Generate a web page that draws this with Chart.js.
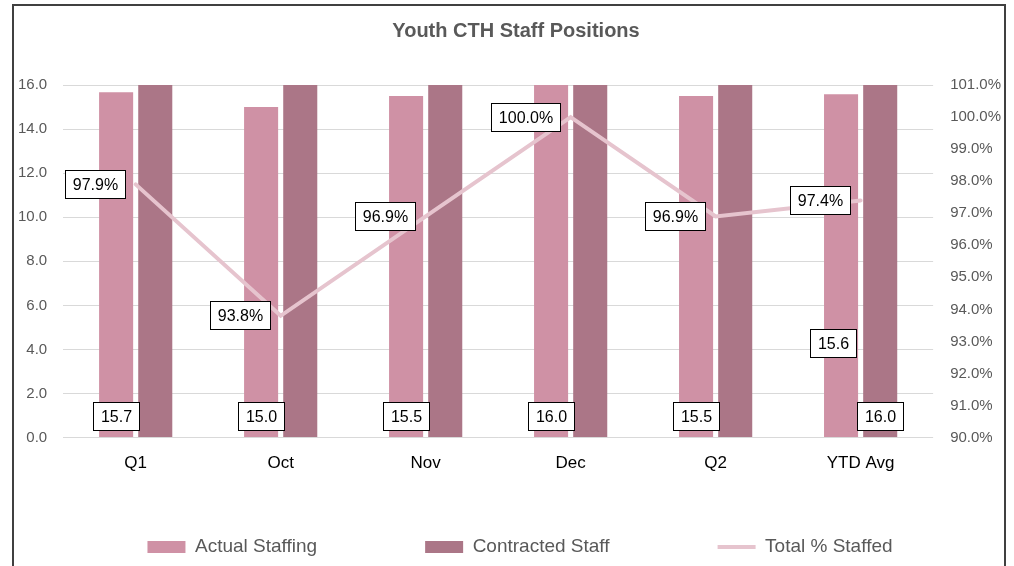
<!DOCTYPE html>
<html>
<head>
<meta charset="utf-8">
<script src="https://cdn.jsdelivr.net/npm/chart.js@4/dist/chart.umd.min.js"></script>
<style>
  html, body { margin: 0; padding: 0; background: #fff; overflow: hidden; }
  #wrap { position: relative; width: 1014px; height: 566px; }
  #frame { position: absolute; left: 12px; top: 4px; width: 994px; height: 640px; border: 2px solid #404040; pointer-events: none; box-sizing: border-box; }
  canvas { position: absolute; left: 0; top: 0; }
</style>
</head>
<body>
<div id="wrap">
  <canvas id="c" width="1014" height="566"></canvas>
  <div id="frame"></div>
</div>
<script>
const categories = ['Q1', 'Oct', 'Nov', 'Dec', 'Q2', 'YTD Avg'];
const actualStaffing = [15.67, 15.0, 15.5, 16.0, 15.5, 15.58];
const contractedStaff = [16.0, 16.0, 16.0, 16.0, 16.0, 16.0];
const totalPctStaffed = [97.9, 93.8, 96.9, 100.0, 96.9, 97.4];
const seriesNames = ['Actual Staffing', 'Contracted Staff', 'Total % Staffed'];
const leftAxisRange = [0, 16, 2];
const rightAxisRange = [90, 101, 1];
const contractedLabelShown = [false, false, false, false, false, true];

const FONT = '"Liberation Sans", Arial, sans-serif';
const LEGEND_PAD = 108;
const LEGEND_BAND = 76;

const boxLabels = {
  id: 'boxLabels',
  beforeUpdate(chart) {
    const lg = chart.legend;
    if (lg && !lg._bandPatched) {
      const orig = lg.fit;
      lg.fit = function () { orig.call(this); if (this.isHorizontal()) this.height = LEGEND_BAND; };
      lg._bandPatched = true;
    }
  },
  afterLayout(chart) {
    const lg = chart.legend;
    if (lg) {
      const centerY = chart.height - 19;
      lg.top = centerY - 9.5 - LEGEND_PAD;
      lg.left += 10; lg.right += 10;
    }
    const tb = chart.titleBlock;
    if (tb) { tb.left += 6; tb.right += 6; }
  },
  afterDatasetsDraw(chart) {
    const ctx = chart.ctx;
    const area = chart.chartArea;
    ctx.save();
    ctx.font = '16px ' + FONT;
    ctx.textBaseline = 'middle';
    ctx.textAlign = 'center';
    const drawBox = (text, cx, cy) => {
      const w = Math.round(ctx.measureText(text).width + 16);
      const h = 29;
      const x0 = Math.round(cx - w / 2), y0 = Math.round(cy - h / 2);
      ctx.fillStyle = '#ffffff';
      ctx.fillRect(x0, y0, w, h);
      ctx.strokeStyle = '#000000';
      ctx.lineWidth = 1;
      ctx.strokeRect(x0 + 0.5, y0 + 0.5, w - 1, h - 1);
      ctx.fillStyle = '#000000';
      ctx.fillText(text, x0 + w / 2, y0 + h / 2 + 1);
    };
    const metaA = chart.getDatasetMeta(0);
    metaA.data.forEach((el, i) => {
      const t = actualStaffing[i].toFixed(1);
      if (i === categories.length - 1) {
        drawBox(t, el.x - 8, area.bottom - 94);
      } else {
        drawBox(t, el.x, area.bottom - 21);
      }
    });
    const metaC = chart.getDatasetMeta(1);
    metaC.data.forEach((el, i) => {
      if (contractedLabelShown[i]) drawBox(contractedStaff[i].toFixed(1), el.x, area.bottom - 21);
    });
    const metaL = chart.getDatasetMeta(2);
    metaL.data.forEach((el, i) => {
      const t = totalPctStaffed[i].toFixed(1) + '%';
      const w = Math.round(ctx.measureText(t).width + 16);
      drawBox(t, el.x - 10 - w / 2, el.y);
    });
    ctx.restore();
  }
};

new Chart(document.getElementById('c'), {
  type: 'bar',
  data: {
    labels: categories,
    datasets: [
      { label: seriesNames[0], data: actualStaffing, backgroundColor: '#CF91A5', yAxisID: 'y', order: 1,
        categoryPercentage: 0.54, barPercentage: 0.87, pointStyle: 'rect' },
      { label: seriesNames[1], data: contractedStaff, backgroundColor: '#AB7687', yAxisID: 'y', order: 1,
        categoryPercentage: 0.54, barPercentage: 0.87, pointStyle: 'rect' },
      { type: 'line', label: seriesNames[2], data: totalPctStaffed, yAxisID: 'y1', order: 0,
        borderColor: '#E6C4CE', backgroundColor: '#E6C4CE', borderWidth: 4, pointRadius: 0,
        pointHoverRadius: 0, tension: 0, pointStyle: 'line', borderCapStyle: 'round' }
    ]
  },
  options: {
    responsive: false,
    animation: false,
    devicePixelRatio: 1,
    layout: { padding: { left: 2, right: -4, top: 9, bottom: 0 } },
    plugins: {
      title: {
        display: true, text: 'Youth CTH Staff Positions', color: '#595959',
        font: { family: FONT, size: 20, weight: 'bold' },
        padding: { top: 10, bottom: 42 }
      },
      legend: {
        position: 'bottom',
        labels: {
          usePointStyle: true, pointStyleWidth: 38, boxHeight: 12, boxWidth: 38,
          padding: LEGEND_PAD, color: '#595959', font: { family: FONT, size: 19 },
          sort: (a, b) => a.datasetIndex - b.datasetIndex
        }
      },
      tooltip: { enabled: false }
    },
    scales: {
      x: {
        grid: { display: false, drawTicks: false },
        border: { display: false },
        ticks: { color: '#000000', font: { family: FONT, size: 17 }, padding: 16 }
      },
      y: {
        position: 'left', min: leftAxisRange[0], max: leftAxisRange[1],
        grid: { color: '#D9D9D9', drawTicks: false, lineWidth: 1 },
        border: { display: false },
        ticks: { stepSize: leftAxisRange[2], color: '#595959', font: { family: FONT, size: 15 }, padding: 16,
          callback: (v) => Number(v).toFixed(1) }
      },
      y1: {
        position: 'right', min: rightAxisRange[0], max: rightAxisRange[1],
        grid: { display: false, drawTicks: false },
        border: { display: false },
        ticks: { stepSize: rightAxisRange[2], color: '#595959', font: { family: FONT, size: 15 }, padding: 17,
          callback: (v) => Number(v).toFixed(1) + '%' }
      }
    }
  },
  plugins: [boxLabels]
});
</script>
</body>
</html>
